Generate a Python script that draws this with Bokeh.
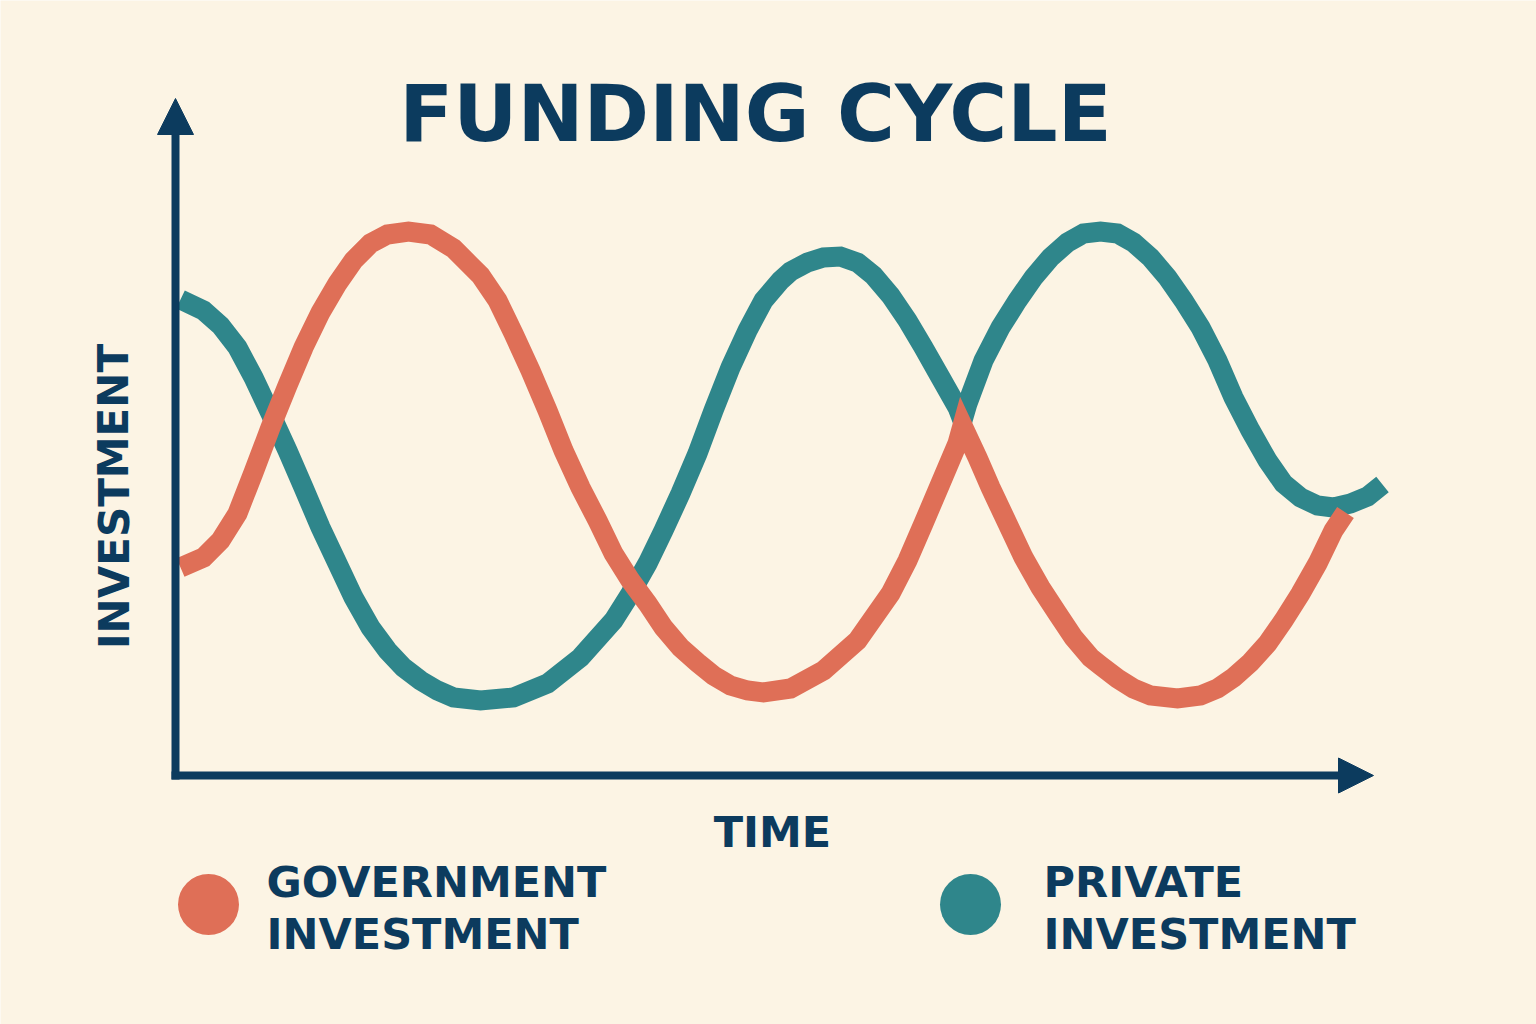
from bokeh.plotting import figure
from bokeh.models import Range1d, Arrow, NormalHead
from bokeh.core.properties import value
from bokeh.embed import file_html
from bokeh.resources import INLINE

# ---- data (time units, investment units) ----
gov_t = [0.5, 2.8, 4.5, 6.2, 7.8, 9.5, 11.2, 12.8, 14.5, 16.2,
         17.8, 19.5, 21.2, 23.3, 25.5, 27.8, 29.5, 30.5, 32.2, 33.8,
         35.5, 37.2, 38.8, 40.5, 42.2, 43.8, 45.5, 47.2, 48.8, 50.5,
         52.2, 53.8, 55.5, 57.2, 58.8, 61.5, 64.8, 68.2, 71.5, 73.2,
         74.8, 76.5, 78.2, 78.7, 80.2, 81.5, 83.2, 84.8, 86.5, 88.2,
         89.8, 91.5, 92.5, 94.2, 95.8, 97.5, 100.2, 102.5, 104.2, 105.8,
         107.5, 109.2, 110.8, 112.5, 114.2, 115.8, 117.0]
gov_v = [41.6, 43.6, 47.0, 52.4, 60.6, 69.6, 78.0, 85.6, 92.6, 98.4,
         103.0, 106.4, 108.2, 108.8, 108.2, 105.4, 102.0, 100.0, 95.0, 88.4,
         81.0, 73.0, 65.0, 57.6, 51.0, 44.4, 39.0, 34.4, 29.6, 25.6,
         22.6, 20.0, 18.0, 17.0, 16.6, 17.4, 21.0, 27.0, 36.4, 43.0,
         50.4, 58.4, 66.4, 70.0, 63.6, 57.6, 50.4, 43.6, 37.6, 32.4,
         27.6, 23.6, 22.0, 19.4, 17.4, 16.0, 15.4, 16.0, 17.4, 19.6,
         22.6, 26.4, 31.0, 36.4, 42.4, 49.0, 52.6]

priv_t = [0.5, 2.8, 4.5, 6.2, 7.8, 9.5, 11.2, 12.8, 14.5, 16.2,
          17.8, 19.5, 21.2, 22.8, 24.5, 26.2, 27.8, 30.5, 33.8, 37.2,
          40.5, 43.8, 45.5, 47.2, 48.8, 50.5, 52.2, 53.8, 55.5, 57.2,
          58.8, 60.5, 61.5, 63.2, 64.8, 66.5, 68.2, 69.8, 71.5, 73.2,
          74.8, 76.5, 78.2, 78.7, 79.2, 80.8, 82.5, 84.2, 85.8, 87.5,
          89.2, 90.8, 92.5, 94.2, 95.8, 97.5, 99.2, 100.8, 102.5, 104.2,
          105.8, 107.5, 109.2, 110.8, 112.5, 114.2, 115.8, 117.5, 119.2, 120.7]
priv_v = [95.2, 93.0, 90.0, 85.6, 79.6, 72.4, 65.0, 57.6, 49.6, 42.4,
          35.6, 29.6, 25.0, 21.6, 19.0, 17.0, 15.6, 15.0, 15.6, 18.4,
          23.6, 31.0, 36.4, 42.4, 49.0, 56.4, 64.4, 73.0, 81.6, 89.0,
          95.0, 99.0, 100.8, 102.6, 103.6, 103.8, 102.6, 100.0, 96.0, 91.0,
          85.6, 79.6, 73.6, 71.0, 74.4, 83.0, 89.6, 95.0, 99.6, 103.6,
          106.6, 108.4, 108.8, 108.4, 106.6, 103.6, 99.6, 95.0, 89.6, 83.0,
          75.6, 69.0, 63.0, 58.4, 55.6, 54.0, 53.6, 54.4, 55.8, 58.2]

title_text = "FUNDING CYCLE"
x_label = "TIME"
y_label = "INVESTMENT"
legend_lines = [["GOVERNMENT", "INVESTMENT"], ["PRIVATE", "INVESTMENT"]]

# ---- style ----
BG = "#FCF4E4"
NAVY = "#0C3B5E"
ORANGE = "#DF6F57"
TEAL = "#2F868B"
FONT = value("DejaVu Sans")

p = figure(width=1536, height=1024,
           x_range=Range1d(-17.5, 136.1), y_range=Range1d(-49.8, 155.0),
           x_axis_type=None, y_axis_type=None,
           output_backend="svg", toolbar_location=None, min_border=0,
           background_fill_color=BG, border_fill_color=BG, outline_line_color=None)
p.grid.visible = False

# axes with arrows
axis_t_end = 119.8
axis_v_end = 135.4
p.add_layout(Arrow(end=NormalHead(size=36, fill_color=NAVY, line_color=NAVY, line_width=1),
                   x_start=0, y_start=-0.8, x_end=0, y_end=axis_v_end,
                   line_color=NAVY, line_width=8))
p.add_layout(Arrow(end=NormalHead(size=35, fill_color=NAVY, line_color=NAVY, line_width=1),
                   x_start=-0.4, y_start=0, x_end=axis_t_end, y_end=0,
                   line_color=NAVY, line_width=8))

# curves
p.line(priv_t, priv_v, line_color=TEAL, line_width=20, line_join="miter")
p.line(gov_t, gov_v, line_color=ORANGE, line_width=20, line_join="miter")

# title and labels
common = dict(text_font=FONT, text_font_style="bold", text_color=NAVY, text_baseline="middle")
p.text(x=[58.0], y=[132.4], text=[title_text], text_font_size="79px", text_align="center", **common)
p.text(x=[59.7], y=[-11.3], text=[x_label], text_font_size="43px", text_align="center", **common)
p.text(x=[-6.15], y=[55.8], text=[y_label], text_font_size="42px", text_align="center",
       angle=1.5708, **common)

# legend
p.scatter(x=[3.3, 79.5], y=[-25.8, -25.8], marker="circle", size=61,
          fill_color=[ORANGE, TEAL], line_color=None)
leg_x = [9.1, 86.8]
p.text(x=leg_x, y=[-21.3, -21.3], text=[l[0] for l in legend_lines],
       text_font_size="43px", text_align="left", **common)
p.text(x=leg_x, y=[-31.7, -31.7], text=[l[1] for l in legend_lines],
       text_font_size="43px", text_align="left", **common)

open("out.html", "w").write(file_html(p, INLINE))
